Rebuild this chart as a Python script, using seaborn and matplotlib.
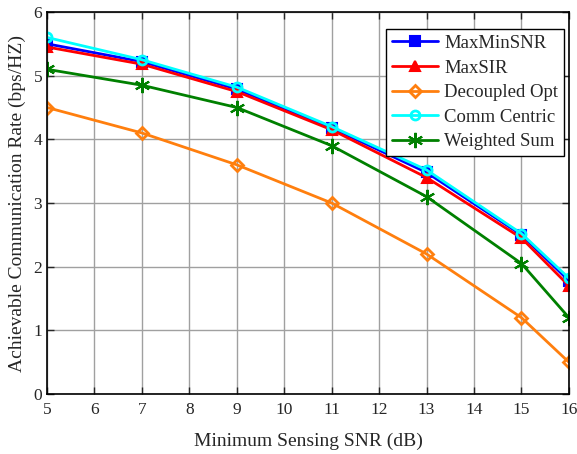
import matplotlib
matplotlib.use("Agg")
import matplotlib.pyplot as plt
import numpy as np
import pandas as pd
import seaborn as sns

# values
snr_db = [5, 7, 9, 11, 13, 15, 16]
max_min_snr = [5.50, 5.22, 4.79, 4.18, 3.48, 2.50, 1.78]
max_sir = [5.45, 5.18, 4.75, 4.15, 3.40, 2.45, 1.70]
decoupled_opt = [4.50, 4.10, 3.60, 3.00, 2.20, 1.20, 0.50]
comm_centric = [5.60, 5.25, 4.82, 4.20, 3.52, 2.52, 1.82]
weighted_sum = [5.10, 4.85, 4.50, 3.90, 3.10, 2.05, 1.20]

series = [
    ("MaxMinSNR", max_min_snr, "blue", "s", True),
    ("MaxSIR", max_sir, "red", "^", True),
    ("Decoupled Opt", decoupled_opt, "#ff7f0e", "D", False),
    ("Comm Centric", comm_centric, "cyan", "o", False),
    ("Weighted Sum", weighted_sum, "green", (6, 2, 0), True),
]

sns.set_style("ticks")
plt.rcParams["font.family"] = ["Liberation Serif", "DejaVu Serif"]

fig = plt.figure(figsize=(5.77, 4.54), dpi=100)
ax = fig.add_axes([0.0815, 0.132, 0.9045, 0.8416])

for name, vals, col, mk, filled in series:
    df = pd.DataFrame({"x": snr_db, "y": vals})
    size = {"s": 6.5, "^": 7, "D": 6.5, "o": 6.5}.get(mk, 11) if isinstance(mk, str) else 11
    sns.lineplot(data=df, x="x", y="y", ax=ax, color=col, linewidth=2,
                 marker=mk, markersize=size,
                 markerfacecolor=col if filled else "none",
                 markeredgecolor=col, markeredgewidth=1.5 if filled else 2,
                 label=name)

ax.set_xlim(5, 16)
ax.set_ylim(0, 6)
ax.set_xticks(range(5, 17))
ax.set_yticks(range(0, 7))
ax.grid(True, color="#a0a0a0", linewidth=1)
ax.set_axisbelow(True)
ax.tick_params(direction="in", top=True, right=True, labelsize=12.5, length=5, width=1)
ax.tick_params(axis="x", pad=6)
for s in ax.spines.values():
    s.set_linewidth(1.2)
    s.set_color("black")

ax.set_xlabel("Minimum Sensing SNR (dB)", fontsize=14, labelpad=10)
ax.set_ylabel("Achievable Communication Rate (bps/HZ)", fontsize=14, labelpad=5)

leg = ax.legend(loc="upper right", bbox_to_anchor=(0.99, 0.955), fontsize=13.5,
                frameon=True, fancybox=False, edgecolor="black", framealpha=1,
                handlelength=2.5, borderpad=0.3, labelspacing=0.4,
                handletextpad=0.3, borderaxespad=0)
leg.get_frame().set_linewidth(1)

fig.savefig("out.png", dpi=100)
